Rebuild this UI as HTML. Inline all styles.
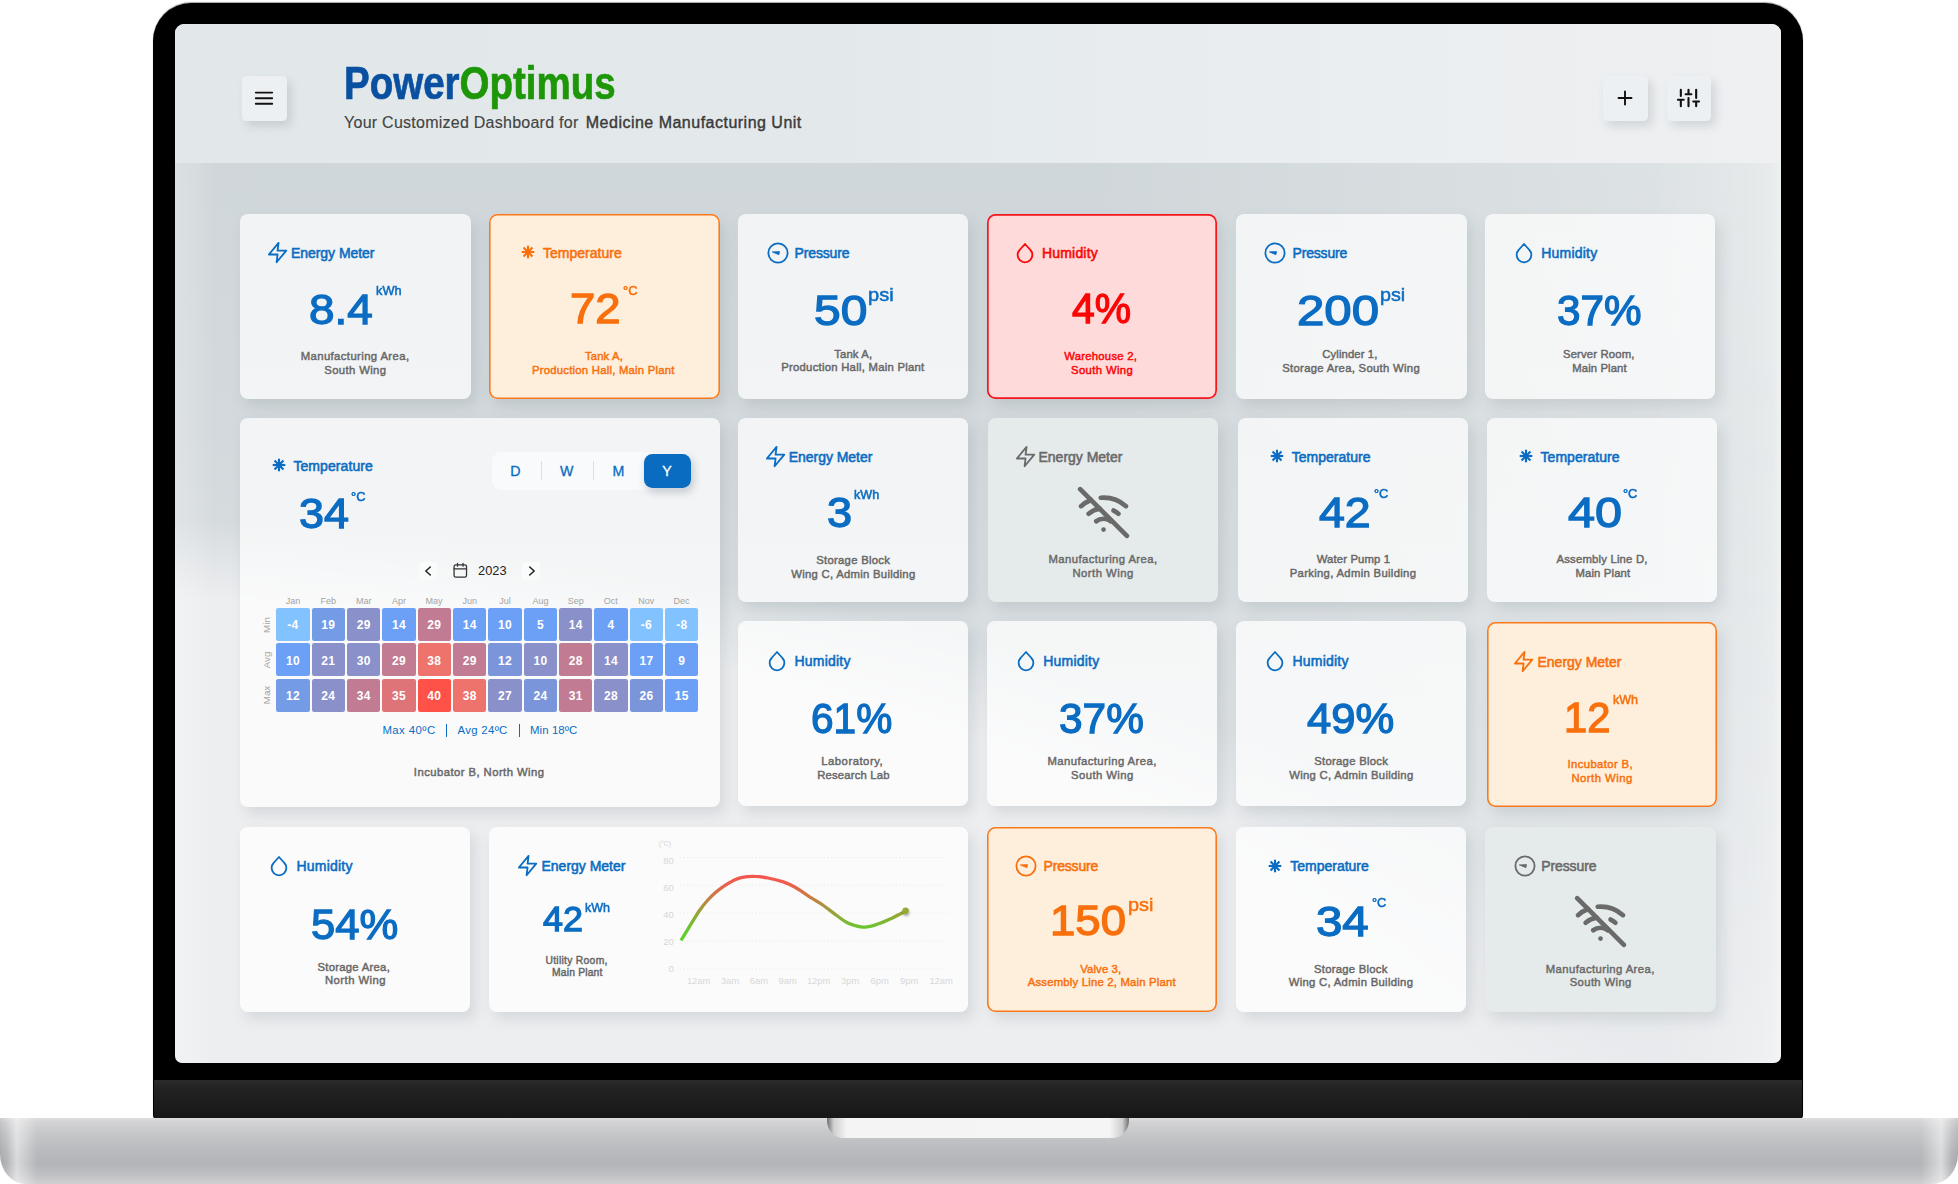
<!DOCTYPE html>
<html lang="en"><head><meta charset="utf-8"><title>PowerOptimus Dashboard</title>
<style>
*{box-sizing:border-box}
html,body{margin:0;padding:0}
body{width:1958px;height:1184px;position:relative;overflow:hidden;background:#fff;font-family:"Liberation Sans",Arial,sans-serif}
.t{position:absolute;white-space:nowrap;line-height:1;display:block}
.i{position:absolute;overflow:visible}
#lid{position:absolute;left:153px;top:2.5px;width:1650px;height:1116.5px;background:#000;border-radius:38px 38px 4px 4px;box-shadow:0 -1px 1px rgba(0,0,0,.35)}
#chin{position:absolute;left:154px;top:1079.5px;width:1648px;height:39px;background:linear-gradient(180deg,#2a2a2a 0,#222 25%,#161616 100%);border-radius:0 0 4px 4px}
#screen{position:absolute;left:175px;top:24px;width:1606px;height:1038.5px;border-radius:9px 9px 7px 7px;overflow:hidden;background:linear-gradient(90deg,rgba(255,255,255,.24) 0,rgba(255,255,255,.14) 1.2%,rgba(255,255,255,0) 2.4%,rgba(255,255,255,0) 92%,rgba(255,255,255,.2) 98%,rgba(255,255,255,.3) 99.4%,rgba(255,255,255,.5) 100%),radial-gradient(ellipse 1696px 684px at -175px 1176px,#edeef0 0,#edeef0 88.5%,rgba(237,238,240,0) 100%),radial-gradient(ellipse 700px 1300px at 100% 0%,rgba(255,255,255,.34) 0,rgba(255,255,255,0) 100%),linear-gradient(180deg,#d0d7da 0,#d0d7da 13.4%,#d3d9dc 40%,#d9dee1 60%,#dfe3e6 80%,#e7e9ec 100%)}
#hdr{position:absolute;left:0;top:0;width:100%;height:139px;background:linear-gradient(90deg,#e2e8ea 0,#e3e9eb 40%,#ebeef0 75%,#eef0f2 100%)}
#base{position:absolute;left:0;top:1118px;width:1958px;height:66px;border-radius:0 0 26px 26px/0 0 30px 30px;background:linear-gradient(90deg,rgba(0,0,0,.07) 0,rgba(255,255,255,.0) 0.35%,rgba(255,255,255,.5) 0.85%,rgba(255,255,255,.0) 1.9%,rgba(255,255,255,0) 98.1%,rgba(255,255,255,.5) 99.15%,rgba(255,255,255,0) 99.65%,rgba(0,0,0,.07) 100%),linear-gradient(180deg,#dededf 0,#d3d3d5 6%,#c8c9cb 20%,#babbbe 48%,#b3b4b7 68%,#bdbec1 84%,#d0d0d2 100%)}
#notch{position:absolute;left:827px;top:0;width:301.5px;height:20px;background:linear-gradient(90deg,#6e6e6e 0,#cfcfcf 2.2%,#f4f4f4 6.5%,#f5f5f5 93.5%,#cfcfcf 97.8%,#6e6e6e 100%);border-radius:0 0 16px 16px/0 0 18px 18px}
.btn{position:absolute;width:44.6px;height:44.6px;border-radius:4.5px;background:#edf0f2;box-shadow:4px 5px 10px rgba(90,105,115,.20)}
.card{position:absolute;border-radius:8px;background:rgba(255,255,255,.7);box-shadow:5px 7px 14px rgba(95,110,120,.17)}
.card.or{background:#feefdc;border-radius:8.5px;box-shadow:inset 0 0 0 1.6px #fb791d,5px 7px 14px rgba(95,110,120,.17)}
.card.rd{background:#fedada;border-radius:8.5px;box-shadow:inset 0 0 0 1.7px #f5161b,5px 7px 14px rgba(95,110,120,.17)}
.card.dis{background:#e5eaeb}
.card.w{background:rgba(255,255,255,.74)}
#seg{position:absolute;left:491.6px;top:451.6px;width:199px;height:38px;border-radius:9px;background:#f8fafb}
#segy{position:absolute;left:644px;top:453.5px;width:46.8px;height:34.3px;border-radius:8.5px;background:#0a6cc0;box-shadow:2px 4px 8px rgba(60,80,100,.28)}
.sep{position:absolute;top:461px;width:1px;height:19.2px;background:#dcdfe1}
.nav{position:absolute;width:18px;height:18px;border-radius:3.5px;background:#fafbfb}
.hc{position:absolute;width:33.3px;height:32.9px;border-radius:2.2px}
.rot{transform:translate(-50%,-50%) rotate(-90deg);transform-origin:50% 50%}
.vb{position:absolute;top:723.9px;width:1.3px;height:13.2px;background:#0a6cc2}
</style></head>
<body>
<div id="lid"></div><div id="chin"></div>
<div id="screen"><div id="hdr"></div></div>
<div id="base"><div id="notch"></div></div>
<div class="btn" style="left:242px;top:76px"></div>
<svg class="i" style="left:254.35px;top:88.4px" width="20" height="20" viewBox="0 0 20 20" stroke="#111" stroke-width="1.9" stroke-linecap="round"><path d="M1.8 4.6h16.4M1.8 10.2h16.4M1.8 15.8h16.4"/></svg>
<div class="btn" style="left:1603px;top:76px"></div>
<svg class="i" style="left:1615.45px;top:88.45px" width="20" height="20" viewBox="0 0 20 20" stroke="#111" stroke-width="1.9" stroke-linecap="round"><path d="M10 3.5v13M3.5 10h13"/></svg>
<div class="btn" style="left:1666.5px;top:76px"></div>
<svg class="i" style="left:1677.2px;top:87.45px" width="23" height="21.9" viewBox="0 0 24 24" preserveAspectRatio="none" fill="none" stroke="#111" stroke-width="2.2" stroke-linecap="round"><path d="M4 21v-7M4 10V3M12 21v-9M12 8V3M20 21v-5M20 12V3M1 14h6M9 8h6M17 16h6"/></svg>
<span class="t" id="logo" style="left:343.6px;top:59.62px;font-size:46.4px;font-weight:700;transform-origin:0 0;transform:scaleX(0.83);"><span style="color:#0a50a1;-webkit-text-stroke:0.7px #0a50a1">Power</span><span style="color:#1d9608;-webkit-text-stroke:0.7px #1d9608">Optimus</span></span>
<span class="t" id="t1" style="left:344.07px;top:115.06px;font-size:16px;color:#444;-webkit-text-stroke:0.15px #444;letter-spacing:0.253px;">Your Customized Dashboard for</span>
<span class="t" id="t2" style="left:585.80px;top:115.06px;font-size:16px;color:#3a3a3a;-webkit-text-stroke:0.4px #3a3a3a;letter-spacing:0.488px;">Medicine Manufacturing Unit</span>
<div class="card" style="left:240.1px;top:213.55px;width:230.5px;height:185.05px"></div>
<svg class="i" style="left:265.72px;top:240.79px" width="23.16" height="23.16" viewBox="0 0 24 24" fill="none" stroke="#0a6cc2" stroke-width="1.9" stroke-linejoin="round" stroke-linecap="round"><path d="M13 2 3 14h9l-1 8 10-12h-9l1-8z"/></svg>
<span class="t" id="t3" style="left:290.97px;top:246.35px;font-size:14px;color:#0a6cc2;-webkit-text-stroke:0.55px #0a6cc2;letter-spacing:-0.047px;">Energy Meter</span>
<span class="t" id="t4" style="left:309.12px;top:288.79px;font-size:42.3px;color:#0a6cc2;-webkit-text-stroke:1.3px #0a6cc2;transform-origin:0 0;transform:scaleX(1.0841);">8.4</span>
<span class="t" id="t5" style="left:375.96px;top:285.29px;font-size:12.3px;color:#0a6cc2;-webkit-text-stroke:0.5px #0a6cc2;transform-origin:0 0;transform:scaleX(1.0374);">kWh</span>
<span class="t" id="t6" style="left:300.73px;top:351.43px;font-size:11.3px;color:#686868;-webkit-text-stroke:0.45px #686868;letter-spacing:0.401px;">Manufacturing Area,</span>
<span class="t" id="t7" style="left:324.23px;top:365.33px;font-size:11.3px;color:#686868;-webkit-text-stroke:0.45px #686868;letter-spacing:0.382px;">South Wing</span>
<div class="card or" style="left:489.4px;top:213.55px;width:230.2px;height:185.05px"></div>
<svg class="i" style="left:518.20px;top:242.40px" width="20" height="20" viewBox="0 0 20 20" fill="none" stroke="#f8700d" stroke-width="2.15"><line x1="3.70" y1="10.00" x2="16.30" y2="10.00"/><line x1="5.55" y1="5.55" x2="14.45" y2="14.45"/><line x1="10.00" y1="3.70" x2="10.00" y2="16.30"/><line x1="14.45" y1="5.55" x2="5.55" y2="14.45"/></svg>
<span class="t" id="t8" style="left:542.88px;top:245.95px;font-size:14px;color:#f8700d;-webkit-text-stroke:0.55px #f8700d;letter-spacing:0.034px;">Temperature</span>
<span class="t" id="t9" style="left:569.95px;top:288.19px;font-size:42.3px;color:#f8700d;-webkit-text-stroke:1.3px #f8700d;transform-origin:0 0;transform:scaleX(1.0753);">72</span>
<span class="t" id="t10" style="left:622.56px;top:284.59px;font-size:12.3px;color:#f8700d;-webkit-text-stroke:0.5px #f8700d;transform-origin:0 0;transform:scaleX(1.0473);">°C</span>
<span class="t" id="t11" style="left:584.98px;top:351.13px;font-size:11.3px;color:#f8700d;-webkit-text-stroke:0.45px #f8700d;letter-spacing:0.127px;">Tank A,</span>
<span class="t" id="t12" style="left:531.98px;top:365.13px;font-size:11.3px;color:#f8700d;-webkit-text-stroke:0.45px #f8700d;letter-spacing:0.238px;">Production Hall, Main Plant</span>
<div class="card" style="left:737.8px;top:213.55px;width:230.5px;height:185.05px"></div>
<svg class="i" style="left:765.60px;top:240.80px" width="24" height="24" viewBox="0 0 24 24" fill="none" stroke="#0a6cc2" stroke-width="1.8"><circle cx="12" cy="12" r="9.6"/><path d="M6.3 10.9 13.5 10.6 12.9 13.7z" fill="#0a6cc2" stroke-width="0.8" stroke-linejoin="round"/></svg>
<span class="t" id="t13" style="left:794.48px;top:246.25px;font-size:14px;color:#0a6cc2;-webkit-text-stroke:0.55px #0a6cc2;letter-spacing:-0.126px;">Pressure</span>
<span class="t" id="t14" style="left:813.70px;top:290.39px;font-size:42.3px;color:#0a6cc2;-webkit-text-stroke:1.3px #0a6cc2;transform-origin:0 0;transform:scaleX(1.1326);">50</span>
<span class="t" id="t15" style="left:868.28px;top:285.72px;font-size:18.4px;color:#0a6cc2;-webkit-text-stroke:0.5px #0a6cc2;transform-origin:0 0;transform:scaleX(1.0902);">psi</span>
<span class="t" id="t16" style="left:834.23px;top:348.53px;font-size:11.3px;color:#686868;-webkit-text-stroke:0.45px #686868;letter-spacing:0.127px;">Tank A,</span>
<span class="t" id="t17" style="left:781.23px;top:362.43px;font-size:11.3px;color:#686868;-webkit-text-stroke:0.45px #686868;letter-spacing:0.257px;">Production Hall, Main Plant</span>
<div class="card rd" style="left:987px;top:213.55px;width:230.3px;height:185.05px"></div>
<svg class="i" style="left:1015.35px;top:241.90px" width="20" height="24" viewBox="0 0 20 24" fill="none" stroke="#fa0606" stroke-width="1.8" stroke-linejoin="round"><path d="M10 2 15.2 7.75A7.35 7.35 0 1 1 4.8 7.75z"/></svg>
<span class="t" id="t18" style="left:1041.98px;top:246.25px;font-size:14px;color:#fa0606;-webkit-text-stroke:0.55px #fa0606;letter-spacing:0.185px;">Humidity</span>
<span class="t" id="t19" style="left:1072.13px;top:288.09px;font-size:42.3px;color:#fa0606;-webkit-text-stroke:1.3px #fa0606;transform-origin:0 0;transform:scaleX(0.9657);">4%</span>
<span class="t" id="t20" style="left:1064.22px;top:350.93px;font-size:11.3px;color:#fa0606;-webkit-text-stroke:0.45px #fa0606;letter-spacing:0.253px;">Warehouse 2,</span>
<span class="t" id="t21" style="left:1070.97px;top:364.93px;font-size:11.3px;color:#fa0606;-webkit-text-stroke:0.45px #fa0606;letter-spacing:0.382px;">South Wing</span>
<div class="card" style="left:1235.75px;top:213.55px;width:230.95px;height:185.05px"></div>
<svg class="i" style="left:1263.30px;top:240.90px" width="24" height="24" viewBox="0 0 24 24" fill="none" stroke="#0a6cc2" stroke-width="1.8"><circle cx="12" cy="12" r="9.6"/><path d="M6.3 10.9 13.5 10.6 12.9 13.7z" fill="#0a6cc2" stroke-width="0.8" stroke-linejoin="round"/></svg>
<span class="t" id="t22" style="left:1292.53px;top:246.35px;font-size:14px;color:#0a6cc2;-webkit-text-stroke:0.55px #0a6cc2;letter-spacing:-0.183px;">Pressure</span>
<span class="t" id="t23" style="left:1296.68px;top:290.34px;font-size:42.3px;color:#0a6cc2;-webkit-text-stroke:1.3px #0a6cc2;transform-origin:0 0;transform:scaleX(1.1632);">200</span>
<span class="t" id="t24" style="left:1380.20px;top:285.67px;font-size:18.4px;color:#0a6cc2;-webkit-text-stroke:0.5px #0a6cc2;transform-origin:0 0;transform:scaleX(1.0719);">psi</span>
<span class="t" id="t25" style="left:1322.22px;top:348.63px;font-size:11.3px;color:#686868;-webkit-text-stroke:0.45px #686868;letter-spacing:0.119px;">Cylinder 1,</span>
<span class="t" id="t26" style="left:1282.22px;top:362.63px;font-size:11.3px;color:#686868;-webkit-text-stroke:0.45px #686868;letter-spacing:0.297px;">Storage Area, South Wing</span>
<div class="card" style="left:1484.75px;top:213.55px;width:230.55px;height:185.05px"></div>
<svg class="i" style="left:1513.80px;top:242.00px" width="20" height="24" viewBox="0 0 20 24" fill="none" stroke="#0a6cc2" stroke-width="1.8" stroke-linejoin="round"><path d="M10 2 15.2 7.75A7.35 7.35 0 1 1 4.8 7.75z"/></svg>
<span class="t" id="t27" style="left:1541.28px;top:246.35px;font-size:14px;color:#0a6cc2;-webkit-text-stroke:0.55px #0a6cc2;letter-spacing:0.214px;">Humidity</span>
<span class="t" id="t28" style="left:1556.65px;top:290.34px;font-size:42.3px;color:#0a6cc2;-webkit-text-stroke:1.3px #0a6cc2;transform-origin:0 0;transform:scaleX(0.9988);">37%</span>
<span class="t" id="t29" style="left:1562.97px;top:348.63px;font-size:11.3px;color:#686868;-webkit-text-stroke:0.45px #686868;letter-spacing:0.159px;">Server Room,</span>
<span class="t" id="t30" style="left:1572.22px;top:362.63px;font-size:11.3px;color:#686868;-webkit-text-stroke:0.45px #686868;letter-spacing:0.118px;">Main Plant</span>
<div class="card" style="left:737.75px;top:417.5px;width:230.5px;height:184.5px"></div>
<svg class="i" style="left:763.92px;top:444.94px" width="23.16" height="23.16" viewBox="0 0 24 24" fill="none" stroke="#0a6cc2" stroke-width="1.9" stroke-linejoin="round" stroke-linecap="round"><path d="M13 2 3 14h9l-1 8 10-12h-9l1-8z"/></svg>
<span class="t" id="t31" style="left:788.77px;top:450.15px;font-size:14px;color:#0a6cc2;-webkit-text-stroke:0.55px #0a6cc2;letter-spacing:-0.038px;">Energy Meter</span>
<span class="t" id="t32" style="left:827.38px;top:491.84px;font-size:42.3px;color:#0a6cc2;-webkit-text-stroke:1.3px #0a6cc2;transform-origin:0 0;transform:scaleX(1.0650);">3</span>
<span class="t" id="t33" style="left:854.26px;top:489.24px;font-size:12.3px;color:#0a6cc2;-webkit-text-stroke:0.5px #0a6cc2;transform-origin:0 0;transform:scaleX(1.0295);">kWh</span>
<span class="t" id="t34" style="left:816.23px;top:554.88px;font-size:11.3px;color:#686868;-webkit-text-stroke:0.45px #686868;letter-spacing:0.281px;">Storage Block</span>
<span class="t" id="t35" style="left:791.23px;top:568.63px;font-size:11.3px;color:#686868;-webkit-text-stroke:0.45px #686868;letter-spacing:0.282px;">Wing C, Admin Building</span>
<div class="card dis" style="left:987.75px;top:417.5px;width:230px;height:184.5px"></div>
<svg class="i" style="left:1013.67px;top:444.94px" width="23.16" height="23.16" viewBox="0 0 24 24" fill="none" stroke="#6a6a6a" stroke-width="1.9" stroke-linejoin="round" stroke-linecap="round"><path d="M13 2 3 14h9l-1 8 10-12h-9l1-8z"/></svg>
<span class="t" id="t36" style="left:1038.53px;top:450.15px;font-size:14px;color:#6a6a6a;-webkit-text-stroke:0.55px #6a6a6a;letter-spacing:-0.016px;">Energy Meter</span>
<svg class="i" style="left:1077.88px;top:486.98px" width="51.05" height="51.05" viewBox="0 0 24 24" fill="none" stroke="#6a6a6a" stroke-width="2.2" stroke-linecap="round" stroke-linejoin="round"><line x1="1" y1="1" x2="23" y2="23"/><path d="M16.72 11.06A10.94 10.94 0 0 1 19 12.55"/><path d="M5 12.55a10.94 10.94 0 0 1 5.17-2.39"/><path d="M10.71 5.05A16 16 0 0 1 22.58 9"/><path d="M1.42 9a15.91 15.91 0 0 1 4.7-2.88"/><path d="M8.53 16.11a6 6 0 0 1 6.95 0"/><line x1="12" y1="20" x2="12.01" y2="20"/></svg>
<span class="t" id="t37" style="left:1048.47px;top:554.13px;font-size:11.3px;color:#6a6a6a;-webkit-text-stroke:0.45px #6a6a6a;letter-spacing:0.415px;">Manufacturing Area,</span>
<span class="t" id="t38" style="left:1072.47px;top:568.13px;font-size:11.3px;color:#6a6a6a;-webkit-text-stroke:0.45px #6a6a6a;letter-spacing:0.481px;">North Wing</span>
<div class="card" style="left:1238px;top:417.5px;width:230.25px;height:184.5px"></div>
<svg class="i" style="left:1266.90px;top:446.45px" width="20" height="20" viewBox="0 0 20 20" fill="none" stroke="#0a6cc2" stroke-width="2.15"><line x1="3.70" y1="10.00" x2="16.30" y2="10.00"/><line x1="5.55" y1="5.55" x2="14.45" y2="14.45"/><line x1="10.00" y1="3.70" x2="10.00" y2="16.30"/><line x1="14.45" y1="5.55" x2="5.55" y2="14.45"/></svg>
<span class="t" id="t39" style="left:1291.78px;top:449.90px;font-size:14px;color:#0a6cc2;-webkit-text-stroke:0.55px #0a6cc2;letter-spacing:0.014px;">Temperature</span>
<span class="t" id="t40" style="left:1319.46px;top:491.84px;font-size:42.3px;color:#0a6cc2;-webkit-text-stroke:1.3px #0a6cc2;transform-origin:0 0;transform:scaleX(1.0999);">42</span>
<span class="t" id="t41" style="left:1373.51px;top:488.49px;font-size:12.3px;color:#0a6cc2;-webkit-text-stroke:0.5px #0a6cc2;transform-origin:0 0;transform:scaleX(1.0404);">°C</span>
<span class="t" id="t42" style="left:1316.72px;top:554.13px;font-size:11.3px;color:#686868;-webkit-text-stroke:0.45px #686868;letter-spacing:0.141px;">Water Pump 1</span>
<span class="t" id="t43" style="left:1289.72px;top:568.13px;font-size:11.3px;color:#686868;-webkit-text-stroke:0.45px #686868;letter-spacing:0.314px;">Parking, Admin Building</span>
<div class="card" style="left:1486.5px;top:417.5px;width:230.5px;height:184.5px"></div>
<svg class="i" style="left:1515.60px;top:446.45px" width="20" height="20" viewBox="0 0 20 20" fill="none" stroke="#0a6cc2" stroke-width="2.15"><line x1="3.70" y1="10.00" x2="16.30" y2="10.00"/><line x1="5.55" y1="5.55" x2="14.45" y2="14.45"/><line x1="10.00" y1="3.70" x2="10.00" y2="16.30"/><line x1="14.45" y1="5.55" x2="5.55" y2="14.45"/></svg>
<span class="t" id="t44" style="left:1540.53px;top:449.90px;font-size:14px;color:#0a6cc2;-webkit-text-stroke:0.55px #0a6cc2;letter-spacing:0.039px;">Temperature</span>
<span class="t" id="t45" style="left:1567.75px;top:491.84px;font-size:42.3px;color:#0a6cc2;-webkit-text-stroke:1.3px #0a6cc2;transform-origin:0 0;transform:scaleX(1.1479);">40</span>
<span class="t" id="t46" style="left:1623.01px;top:488.49px;font-size:12.3px;color:#0a6cc2;-webkit-text-stroke:0.5px #0a6cc2;transform-origin:0 0;transform:scaleX(1.0404);">°C</span>
<span class="t" id="t47" style="left:1556.47px;top:554.13px;font-size:11.3px;color:#686868;-webkit-text-stroke:0.45px #686868;letter-spacing:0.203px;">Assembly Line D,</span>
<span class="t" id="t48" style="left:1575.47px;top:568.13px;font-size:11.3px;color:#686868;-webkit-text-stroke:0.45px #686868;letter-spacing:0.146px;">Main Plant</span>
<div class="card w" style="left:737.75px;top:621px;width:230.5px;height:184.75px"></div>
<svg class="i" style="left:767.05px;top:649.75px" width="20" height="24" viewBox="0 0 20 24" fill="none" stroke="#0a6cc2" stroke-width="1.8" stroke-linejoin="round"><path d="M10 2 15.2 7.75A7.35 7.35 0 1 1 4.8 7.75z"/></svg>
<span class="t" id="t49" style="left:794.52px;top:653.90px;font-size:14px;color:#0a6cc2;-webkit-text-stroke:0.55px #0a6cc2;letter-spacing:0.214px;">Humidity</span>
<span class="t" id="t50" style="left:810.95px;top:697.59px;font-size:42.3px;color:#0a6cc2;-webkit-text-stroke:1.3px #0a6cc2;transform-origin:0 0;transform:scaleX(0.9598);">61%</span>
<span class="t" id="t51" style="left:821.23px;top:755.88px;font-size:11.3px;color:#686868;-webkit-text-stroke:0.45px #686868;letter-spacing:0.513px;">Laboratory,</span>
<span class="t" id="t52" style="left:817.23px;top:769.63px;font-size:11.3px;color:#686868;-webkit-text-stroke:0.45px #686868;letter-spacing:0.182px;">Research Lab</span>
<div class="card w" style="left:987px;top:621px;width:230px;height:184.75px"></div>
<svg class="i" style="left:1015.80px;top:649.75px" width="20" height="24" viewBox="0 0 20 24" fill="none" stroke="#0a6cc2" stroke-width="1.8" stroke-linejoin="round"><path d="M10 2 15.2 7.75A7.35 7.35 0 1 1 4.8 7.75z"/></svg>
<span class="t" id="t53" style="left:1043.28px;top:653.90px;font-size:14px;color:#0a6cc2;-webkit-text-stroke:0.55px #0a6cc2;letter-spacing:0.214px;">Humidity</span>
<span class="t" id="t54" style="left:1058.65px;top:697.59px;font-size:42.3px;color:#0a6cc2;-webkit-text-stroke:1.3px #0a6cc2;transform-origin:0 0;transform:scaleX(1.0018);">37%</span>
<span class="t" id="t55" style="left:1047.47px;top:755.88px;font-size:11.3px;color:#686868;-webkit-text-stroke:0.45px #686868;letter-spacing:0.428px;">Manufacturing Area,</span>
<span class="t" id="t56" style="left:1070.97px;top:769.63px;font-size:11.3px;color:#686868;-webkit-text-stroke:0.45px #686868;letter-spacing:0.437px;">South Wing</span>
<div class="card w" style="left:1235.75px;top:621px;width:230.5px;height:184.75px"></div>
<svg class="i" style="left:1265.05px;top:649.75px" width="20" height="24" viewBox="0 0 20 24" fill="none" stroke="#0a6cc2" stroke-width="1.8" stroke-linejoin="round"><path d="M10 2 15.2 7.75A7.35 7.35 0 1 1 4.8 7.75z"/></svg>
<span class="t" id="t57" style="left:1292.53px;top:653.90px;font-size:14px;color:#0a6cc2;-webkit-text-stroke:0.55px #0a6cc2;letter-spacing:0.214px;">Humidity</span>
<span class="t" id="t58" style="left:1307.17px;top:697.59px;font-size:42.3px;color:#0a6cc2;-webkit-text-stroke:1.3px #0a6cc2;transform-origin:0 0;transform:scaleX(1.0311);">49%</span>
<span class="t" id="t59" style="left:1314.22px;top:755.88px;font-size:11.3px;color:#686868;-webkit-text-stroke:0.45px #686868;letter-spacing:0.281px;">Storage Block</span>
<span class="t" id="t60" style="left:1289.22px;top:769.63px;font-size:11.3px;color:#686868;-webkit-text-stroke:0.45px #686868;letter-spacing:0.282px;">Wing C, Admin Building</span>
<div class="card or" style="left:1487px;top:622px;width:230px;height:184.5px"></div>
<svg class="i" style="left:1512.42px;top:650.19px" width="23.16" height="23.16" viewBox="0 0 24 24" fill="none" stroke="#f8700d" stroke-width="1.9" stroke-linejoin="round" stroke-linecap="round"><path d="M13 2 3 14h9l-1 8 10-12h-9l1-8z"/></svg>
<span class="t" id="t61" style="left:1537.53px;top:654.65px;font-size:14px;color:#f8700d;-webkit-text-stroke:0.55px #f8700d;letter-spacing:-0.016px;">Energy Meter</span>
<span class="t" id="t62" style="left:1563.93px;top:697.09px;font-size:42.3px;color:#f8700d;-webkit-text-stroke:1.3px #f8700d;transform-origin:0 0;transform:scaleX(0.9869);">12</span>
<span class="t" id="t63" style="left:1612.75px;top:693.74px;font-size:12.3px;color:#f8700d;-webkit-text-stroke:0.5px #f8700d;transform-origin:0 0;transform:scaleX(1.0196);">kWh</span>
<span class="t" id="t64" style="left:1567.47px;top:759.38px;font-size:11.3px;color:#f8700d;-webkit-text-stroke:0.45px #f8700d;letter-spacing:0.389px;">Incubator B,</span>
<span class="t" id="t65" style="left:1571.47px;top:773.13px;font-size:11.3px;color:#f8700d;-webkit-text-stroke:0.45px #f8700d;letter-spacing:0.481px;">North Wing</span>
<div class="card w" style="left:239.75px;top:826.75px;width:230.5px;height:185px"></div>
<svg class="i" style="left:269.05px;top:854.75px" width="20" height="24" viewBox="0 0 20 24" fill="none" stroke="#0a6cc2" stroke-width="1.8" stroke-linejoin="round"><path d="M10 2 15.2 7.75A7.35 7.35 0 1 1 4.8 7.75z"/></svg>
<span class="t" id="t66" style="left:296.52px;top:859.40px;font-size:14px;color:#0a6cc2;-webkit-text-stroke:0.55px #0a6cc2;letter-spacing:0.214px;">Humidity</span>
<span class="t" id="t67" style="left:310.64px;top:903.59px;font-size:42.3px;color:#0a6cc2;-webkit-text-stroke:1.3px #0a6cc2;transform-origin:0 0;transform:scaleX(1.0315);">54%</span>
<span class="t" id="t68" style="left:317.48px;top:961.63px;font-size:11.3px;color:#686868;-webkit-text-stroke:0.45px #686868;letter-spacing:0.269px;">Storage Area,</span>
<span class="t" id="t69" style="left:324.98px;top:975.38px;font-size:11.3px;color:#686868;-webkit-text-stroke:0.45px #686868;letter-spacing:0.454px;">North Wing</span>
<div class="card or" style="left:986.75px;top:826.75px;width:230.5px;height:185px"></div>
<svg class="i" style="left:1014.30px;top:853.90px" width="24" height="24" viewBox="0 0 24 24" fill="none" stroke="#f8700d" stroke-width="1.8"><circle cx="12" cy="12" r="9.6"/><path d="M6.3 10.9 13.5 10.6 12.9 13.7z" fill="#f8700d" stroke-width="0.8" stroke-linejoin="round"/></svg>
<span class="t" id="t70" style="left:1043.53px;top:859.40px;font-size:14px;color:#f8700d;-webkit-text-stroke:0.55px #f8700d;letter-spacing:-0.183px;">Pressure</span>
<span class="t" id="t71" style="left:1049.97px;top:899.84px;font-size:42.3px;color:#f8700d;-webkit-text-stroke:1.3px #f8700d;transform-origin:0 0;transform:scaleX(1.0765);">150</span>
<span class="t" id="t72" style="left:1127.69px;top:896.42px;font-size:18.4px;color:#f8700d;-webkit-text-stroke:0.5px #f8700d;transform-origin:0 0;transform:scaleX(1.0833);">psi</span>
<span class="t" id="t73" style="left:1080.22px;top:963.63px;font-size:11.3px;color:#f8700d;-webkit-text-stroke:0.45px #f8700d;letter-spacing:0.137px;">Valve 3,</span>
<span class="t" id="t74" style="left:1027.72px;top:977.38px;font-size:11.3px;color:#f8700d;-webkit-text-stroke:0.45px #f8700d;letter-spacing:0.208px;">Assembly Line 2, Main Plant</span>
<div class="card w" style="left:1236px;top:826.75px;width:230px;height:185px"></div>
<svg class="i" style="left:1264.60px;top:855.95px" width="20" height="20" viewBox="0 0 20 20" fill="none" stroke="#0a6cc2" stroke-width="2.15"><line x1="3.70" y1="10.00" x2="16.30" y2="10.00"/><line x1="5.55" y1="5.55" x2="14.45" y2="14.45"/><line x1="10.00" y1="3.70" x2="10.00" y2="16.30"/><line x1="14.45" y1="5.55" x2="5.55" y2="14.45"/></svg>
<span class="t" id="t75" style="left:1290.28px;top:859.40px;font-size:14px;color:#0a6cc2;-webkit-text-stroke:0.55px #0a6cc2;letter-spacing:-0.011px;">Temperature</span>
<span class="t" id="t76" style="left:1316.36px;top:900.59px;font-size:42.3px;color:#0a6cc2;-webkit-text-stroke:1.3px #0a6cc2;transform-origin:0 0;transform:scaleX(1.1212);">34</span>
<span class="t" id="t77" style="left:1371.51px;top:897.49px;font-size:12.3px;color:#0a6cc2;-webkit-text-stroke:0.5px #0a6cc2;transform-origin:0 0;transform:scaleX(1.0404);">°C</span>
<span class="t" id="t78" style="left:1313.97px;top:963.63px;font-size:11.3px;color:#686868;-webkit-text-stroke:0.45px #686868;letter-spacing:0.260px;">Storage Block</span>
<span class="t" id="t79" style="left:1288.72px;top:977.38px;font-size:11.3px;color:#686868;-webkit-text-stroke:0.45px #686868;letter-spacing:0.294px;">Wing C, Admin Building</span>
<div class="card dis" style="left:1485px;top:826.75px;width:230.5px;height:185px"></div>
<svg class="i" style="left:1512.60px;top:853.90px" width="24" height="24" viewBox="0 0 24 24" fill="none" stroke="#6a6a6a" stroke-width="1.8"><circle cx="12" cy="12" r="9.6"/><path d="M6.3 10.9 13.5 10.6 12.9 13.7z" fill="#6a6a6a" stroke-width="0.8" stroke-linejoin="round"/></svg>
<span class="t" id="t80" style="left:1541.28px;top:859.40px;font-size:14px;color:#6a6a6a;-webkit-text-stroke:0.55px #6a6a6a;letter-spacing:-0.112px;">Pressure</span>
<svg class="i" style="left:1575.08px;top:896.08px" width="51.05" height="51.05" viewBox="0 0 24 24" fill="none" stroke="#6a6a6a" stroke-width="2.2" stroke-linecap="round" stroke-linejoin="round"><line x1="1" y1="1" x2="23" y2="23"/><path d="M16.72 11.06A10.94 10.94 0 0 1 19 12.55"/><path d="M5 12.55a10.94 10.94 0 0 1 5.17-2.39"/><path d="M10.71 5.05A16 16 0 0 1 22.58 9"/><path d="M1.42 9a15.91 15.91 0 0 1 4.7-2.88"/><path d="M8.53 16.11a6 6 0 0 1 6.95 0"/><line x1="12" y1="20" x2="12.01" y2="20"/></svg>
<span class="t" id="t81" style="left:1545.72px;top:963.63px;font-size:11.3px;color:#6a6a6a;-webkit-text-stroke:0.45px #6a6a6a;letter-spacing:0.415px;">Manufacturing Area,</span>
<span class="t" id="t82" style="left:1569.72px;top:977.38px;font-size:11.3px;color:#6a6a6a;-webkit-text-stroke:0.45px #6a6a6a;letter-spacing:0.354px;">South Wing</span>
<div class="card" style="left:240px;top:417.5px;width:479.5px;height:389.3px"></div>
<svg class="i" style="left:269.00px;top:455.30px" width="20" height="20" viewBox="0 0 20 20" fill="none" stroke="#0a6cc2" stroke-width="2.15"><line x1="3.70" y1="10.00" x2="16.30" y2="10.00"/><line x1="5.55" y1="5.55" x2="14.45" y2="14.45"/><line x1="10.00" y1="3.70" x2="10.00" y2="16.30"/><line x1="14.45" y1="5.55" x2="5.55" y2="14.45"/></svg>
<span class="t" id="t83" style="left:293.38px;top:459.25px;font-size:14px;color:#0a6cc2;-webkit-text-stroke:0.55px #0a6cc2;letter-spacing:0.094px;">Temperature</span>
<span class="t" id="t84" style="left:298.63px;top:492.69px;font-size:42.3px;color:#0a6cc2;-webkit-text-stroke:1.3px #0a6cc2;transform-origin:0 0;transform:scaleX(1.0614);">34</span>
<span class="t" id="t85" style="left:350.96px;top:491.19px;font-size:12.3px;color:#0a6cc2;-webkit-text-stroke:0.5px #0a6cc2;transform-origin:0 0;transform:scaleX(1.0473);">°C</span>
<div id="seg"></div><div id="segy"></div><div class="sep" style="left:541.2px"></div><div class="sep" style="left:593.3px"></div>
<span class="t" id="t86" style="left:510.30px;top:464.18px;font-size:14.2px;color:#0a6cc2;-webkit-text-stroke:0.3px #0a6cc2;">D</span>
<span class="t" id="t87" style="left:560.00px;top:464.18px;font-size:14.2px;color:#0a6cc2;-webkit-text-stroke:0.3px #0a6cc2;">W</span>
<span class="t" id="t88" style="left:612.50px;top:464.18px;font-size:14.2px;color:#0a6cc2;-webkit-text-stroke:0.3px #0a6cc2;">M</span>
<span class="t" id="t89" style="left:662.30px;top:464.18px;font-size:14.2px;color:#fff;-webkit-text-stroke:0.3px #fff;">Y</span>
<div class="nav" style="left:419px;top:561.5px"></div><div class="nav" style="left:522.3px;top:561.5px"></div>
<svg class="i" style="left:423.4px;top:564.5px" width="10" height="12" viewBox="0 0 10 12" fill="none" stroke="#222" stroke-width="1.55" stroke-linecap="round" stroke-linejoin="round"><path d="M7.3 2 2.8 6l4.5 4"/></svg>
<svg class="i" style="left:526.5px;top:564.5px" width="10" height="12" viewBox="0 0 10 12" fill="none" stroke="#222" stroke-width="1.55" stroke-linecap="round" stroke-linejoin="round"><path d="M2.7 2 7.2 6l-4.5 4"/></svg>
<svg class="i" style="left:451.5px;top:562px" width="16.6" height="16.6" viewBox="0 0 24 24" fill="none" stroke="#333" stroke-width="1.85" stroke-linecap="round" stroke-linejoin="round"><rect x="3" y="4" width="18" height="18" rx="2.5"/><path d="M16 2v4M8 2v4M3 10h18"/></svg>
<span class="t" id="t90" style="left:478.00px;top:565.16px;font-size:12.8px;color:#222;letter-spacing:0.050px;">2023</span>
<span class="t" id="t91" style="left:285.70px;top:596.98px;font-size:9px;color:#a4a4a4;">Jan</span>
<span class="t" id="t92" style="left:320.55px;top:596.98px;font-size:9px;color:#a4a4a4;">Feb</span>
<span class="t" id="t93" style="left:355.90px;top:596.98px;font-size:9px;color:#a4a4a4;">Mar</span>
<span class="t" id="t94" style="left:392.00px;top:596.98px;font-size:9px;color:#a4a4a4;">Apr</span>
<span class="t" id="t95" style="left:425.60px;top:596.98px;font-size:9px;color:#a4a4a4;">May</span>
<span class="t" id="t96" style="left:462.45px;top:596.98px;font-size:9px;color:#a4a4a4;">Jun</span>
<span class="t" id="t97" style="left:499.30px;top:596.98px;font-size:9px;color:#a4a4a4;">Jul</span>
<span class="t" id="t98" style="left:532.40px;top:596.98px;font-size:9px;color:#a4a4a4;">Aug</span>
<span class="t" id="t99" style="left:567.75px;top:596.98px;font-size:9px;color:#a4a4a4;">Sep</span>
<span class="t" id="t100" style="left:603.85px;top:596.98px;font-size:9px;color:#a4a4a4;">Oct</span>
<span class="t" id="t101" style="left:638.20px;top:596.98px;font-size:9px;color:#a4a4a4;">Nov</span>
<span class="t" id="t102" style="left:673.55px;top:596.98px;font-size:9px;color:#a4a4a4;">Dec</span>
<span class="t rot" style="left:267.1px;top:624.60px;font-size:9.8px;color:#a4a4a4">Min</span>
<div class="hc" style="left:276.30px;top:608.10px;background:#82c2ff"></div>
<span class="t" id="t103" style="left:287.30px;top:619.34px;font-size:12px;color:#fff;font-weight:700;letter-spacing:0.300px;">-4</span>
<div class="hc" style="left:311.65px;top:608.10px;background:#739be6"></div>
<span class="t" id="t104" style="left:321.31px;top:619.34px;font-size:12px;color:#fff;font-weight:700;letter-spacing:0.300px;">19</span>
<div class="hc" style="left:347.00px;top:608.10px;background:#8a90ca"></div>
<span class="t" id="t105" style="left:356.66px;top:619.34px;font-size:12px;color:#fff;font-weight:700;letter-spacing:0.300px;">29</span>
<div class="hc" style="left:382.35px;top:608.10px;background:#6ca0f6"></div>
<span class="t" id="t106" style="left:392.01px;top:619.34px;font-size:12px;color:#fff;font-weight:700;letter-spacing:0.300px;">14</span>
<div class="hc" style="left:417.70px;top:608.10px;background:#c17b92"></div>
<span class="t" id="t107" style="left:427.36px;top:619.34px;font-size:12px;color:#fff;font-weight:700;letter-spacing:0.300px;">29</span>
<div class="hc" style="left:453.05px;top:608.10px;background:#6ca0f6"></div>
<span class="t" id="t108" style="left:462.71px;top:619.34px;font-size:12px;color:#fff;font-weight:700;letter-spacing:0.300px;">14</span>
<div class="hc" style="left:488.40px;top:608.10px;background:#6ca0f6"></div>
<span class="t" id="t109" style="left:498.06px;top:619.34px;font-size:12px;color:#fff;font-weight:700;letter-spacing:0.300px;">10</span>
<div class="hc" style="left:523.75px;top:608.10px;background:#6ca0f6"></div>
<span class="t" id="t110" style="left:536.90px;top:619.34px;font-size:12px;color:#fff;font-weight:700;letter-spacing:0.300px;">5</span>
<div class="hc" style="left:559.10px;top:608.10px;background:#8a90ca"></div>
<span class="t" id="t111" style="left:568.76px;top:619.34px;font-size:12px;color:#fff;font-weight:700;letter-spacing:0.300px;">14</span>
<div class="hc" style="left:594.45px;top:608.10px;background:#6ca0f6"></div>
<span class="t" id="t112" style="left:607.60px;top:619.34px;font-size:12px;color:#fff;font-weight:700;letter-spacing:0.300px;">4</span>
<div class="hc" style="left:629.80px;top:608.10px;background:#82c2ff"></div>
<span class="t" id="t113" style="left:640.80px;top:619.34px;font-size:12px;color:#fff;font-weight:700;letter-spacing:0.300px;">-6</span>
<div class="hc" style="left:665.15px;top:608.10px;background:#82c2ff"></div>
<span class="t" id="t114" style="left:676.15px;top:619.34px;font-size:12px;color:#fff;font-weight:700;letter-spacing:0.300px;">-8</span>
<span class="t rot" style="left:267.1px;top:659.95px;font-size:9.8px;color:#a4a4a4">Avg</span>
<div class="hc" style="left:276.30px;top:643.45px;background:#6ca0f6"></div>
<span class="t" id="t115" style="left:285.96px;top:654.69px;font-size:12px;color:#fff;font-weight:700;letter-spacing:0.300px;">10</span>
<div class="hc" style="left:311.65px;top:643.45px;background:#8a90ca"></div>
<span class="t" id="t116" style="left:321.31px;top:654.69px;font-size:12px;color:#fff;font-weight:700;letter-spacing:0.300px;">21</span>
<div class="hc" style="left:347.00px;top:643.45px;background:#8a90ca"></div>
<span class="t" id="t117" style="left:356.66px;top:654.69px;font-size:12px;color:#fff;font-weight:700;letter-spacing:0.300px;">30</span>
<div class="hc" style="left:382.35px;top:643.45px;background:#c17b92"></div>
<span class="t" id="t118" style="left:392.01px;top:654.69px;font-size:12px;color:#fff;font-weight:700;letter-spacing:0.300px;">29</span>
<div class="hc" style="left:417.70px;top:643.45px;background:#ee736c"></div>
<span class="t" id="t119" style="left:427.36px;top:654.69px;font-size:12px;color:#fff;font-weight:700;letter-spacing:0.300px;">38</span>
<div class="hc" style="left:453.05px;top:643.45px;background:#c17b92"></div>
<span class="t" id="t120" style="left:462.71px;top:654.69px;font-size:12px;color:#fff;font-weight:700;letter-spacing:0.300px;">29</span>
<div class="hc" style="left:488.40px;top:643.45px;background:#7b95da"></div>
<span class="t" id="t121" style="left:498.06px;top:654.69px;font-size:12px;color:#fff;font-weight:700;letter-spacing:0.300px;">12</span>
<div class="hc" style="left:523.75px;top:643.45px;background:#8a90ca"></div>
<span class="t" id="t122" style="left:533.41px;top:654.69px;font-size:12px;color:#fff;font-weight:700;letter-spacing:0.300px;">10</span>
<div class="hc" style="left:559.10px;top:643.45px;background:#c17b92"></div>
<span class="t" id="t123" style="left:568.76px;top:654.69px;font-size:12px;color:#fff;font-weight:700;letter-spacing:0.300px;">28</span>
<div class="hc" style="left:594.45px;top:643.45px;background:#8a90ca"></div>
<span class="t" id="t124" style="left:604.11px;top:654.69px;font-size:12px;color:#fff;font-weight:700;letter-spacing:0.300px;">14</span>
<div class="hc" style="left:629.80px;top:643.45px;background:#6ca0f6"></div>
<span class="t" id="t125" style="left:639.46px;top:654.69px;font-size:12px;color:#fff;font-weight:700;letter-spacing:0.300px;">17</span>
<div class="hc" style="left:665.15px;top:643.45px;background:#6ca0f6"></div>
<span class="t" id="t126" style="left:678.30px;top:654.69px;font-size:12px;color:#fff;font-weight:700;letter-spacing:0.300px;">9</span>
<span class="t rot" style="left:267.1px;top:695.30px;font-size:9.8px;color:#a4a4a4">Max</span>
<div class="hc" style="left:276.30px;top:678.80px;background:#739be6"></div>
<span class="t" id="t127" style="left:285.96px;top:690.04px;font-size:12px;color:#fff;font-weight:700;letter-spacing:0.300px;">12</span>
<div class="hc" style="left:311.65px;top:678.80px;background:#8a90ca"></div>
<span class="t" id="t128" style="left:321.31px;top:690.04px;font-size:12px;color:#fff;font-weight:700;letter-spacing:0.300px;">24</span>
<div class="hc" style="left:347.00px;top:678.80px;background:#c17b92"></div>
<span class="t" id="t129" style="left:356.66px;top:690.04px;font-size:12px;color:#fff;font-weight:700;letter-spacing:0.300px;">34</span>
<div class="hc" style="left:382.35px;top:678.80px;background:#de7478"></div>
<span class="t" id="t130" style="left:392.01px;top:690.04px;font-size:12px;color:#fff;font-weight:700;letter-spacing:0.300px;">35</span>
<div class="hc" style="left:417.70px;top:678.80px;background:#fe5147"></div>
<span class="t" id="t131" style="left:427.36px;top:690.04px;font-size:12px;color:#fff;font-weight:700;letter-spacing:0.300px;">40</span>
<div class="hc" style="left:453.05px;top:678.80px;background:#ee736c"></div>
<span class="t" id="t132" style="left:462.71px;top:690.04px;font-size:12px;color:#fff;font-weight:700;letter-spacing:0.300px;">38</span>
<div class="hc" style="left:488.40px;top:678.80px;background:#8a90ca"></div>
<span class="t" id="t133" style="left:498.06px;top:690.04px;font-size:12px;color:#fff;font-weight:700;letter-spacing:0.300px;">27</span>
<div class="hc" style="left:523.75px;top:678.80px;background:#7b95da"></div>
<span class="t" id="t134" style="left:533.41px;top:690.04px;font-size:12px;color:#fff;font-weight:700;letter-spacing:0.300px;">24</span>
<div class="hc" style="left:559.10px;top:678.80px;background:#c17b92"></div>
<span class="t" id="t135" style="left:568.76px;top:690.04px;font-size:12px;color:#fff;font-weight:700;letter-spacing:0.300px;">31</span>
<div class="hc" style="left:594.45px;top:678.80px;background:#8a90ca"></div>
<span class="t" id="t136" style="left:604.11px;top:690.04px;font-size:12px;color:#fff;font-weight:700;letter-spacing:0.300px;">28</span>
<div class="hc" style="left:629.80px;top:678.80px;background:#7b95da"></div>
<span class="t" id="t137" style="left:639.46px;top:690.04px;font-size:12px;color:#fff;font-weight:700;letter-spacing:0.300px;">26</span>
<div class="hc" style="left:665.15px;top:678.80px;background:#6ca0f6"></div>
<span class="t" id="t138" style="left:674.81px;top:690.04px;font-size:12px;color:#fff;font-weight:700;letter-spacing:0.300px;">15</span>
<span class="t" id="t139" style="left:382.40px;top:725.05px;font-size:11.4px;color:#0a6cc2;letter-spacing:0.427px;">Max 40ºC</span>
<span class="t" id="t140" style="left:457.60px;top:725.05px;font-size:11.4px;color:#0a6cc2;letter-spacing:0.298px;">Avg 24ºC</span>
<span class="t" id="t141" style="left:530.00px;top:725.05px;font-size:11.4px;color:#0a6cc2;letter-spacing:0.093px;">Min 18ºC</span>
<div class="vb" style="left:446.2px"></div><div class="vb" style="left:518.6px"></div>
<span class="t" id="t142" style="left:413.83px;top:766.73px;font-size:11.3px;color:#686868;-webkit-text-stroke:0.45px #686868;letter-spacing:0.440px;">Incubator B, North Wing</span>
<div class="card w" style="left:489px;top:826.75px;width:479.25px;height:185px"></div>
<svg class="i" style="left:516.42px;top:854.44px" width="23.16" height="23.16" viewBox="0 0 24 24" fill="none" stroke="#0a6cc2" stroke-width="1.9" stroke-linejoin="round" stroke-linecap="round"><path d="M13 2 3 14h9l-1 8 10-12h-9l1-8z"/></svg>
<span class="t" id="t143" style="left:541.52px;top:859.40px;font-size:14px;color:#0a6cc2;-webkit-text-stroke:0.55px #0a6cc2;letter-spacing:-0.016px;">Energy Meter</span>
<span class="t" id="t144" style="left:542.92px;top:902.11px;font-size:34.6px;color:#0a6cc2;-webkit-text-stroke:1.3px #0a6cc2;transform-origin:0 0;transform:scaleX(1.0381);">42</span>
<span class="t" id="t145" style="left:585.00px;top:901.74px;font-size:12.3px;color:#0a6cc2;-webkit-text-stroke:0.5px #0a6cc2;transform-origin:0 0;transform:scaleX(1.0196);">kWh</span>
<span class="t" id="t146" style="left:545.48px;top:956.48px;font-size:10.3px;color:#686868;-webkit-text-stroke:0.45px #686868;letter-spacing:0.296px;">Utility Room,</span>
<span class="t" id="t147" style="left:551.98px;top:968.23px;font-size:10.3px;color:#686868;-webkit-text-stroke:0.45px #686868;letter-spacing:0.196px;">Main Plant</span>
<svg class="i" style="left:0;top:0" width="1958" height="1184" viewBox="0 0 1958 1184" fill="none"><defs><linearGradient id="cg" gradientUnits="userSpaceOnUse" x1="0" y1="876" x2="0" y2="941"><stop offset="0" stop-color="#f2564e"/><stop offset="0.12" stop-color="#ee5e4c"/><stop offset="0.8" stop-color="#6cc62e"/><stop offset="1" stop-color="#58d62a"/></linearGradient><filter id="ds" x="-100%" y="-100%" width="300%" height="300%"><feDropShadow dx="0.5" dy="2" stdDeviation="1.2" flood-color="#000" flood-opacity="0.35"/></filter></defs><line x1="680" y1="857.5" x2="949.5" y2="857.5" stroke="#e4e4e4" stroke-width="0.8" stroke-dasharray="1 2.6"/><line x1="680" y1="885.3" x2="949.5" y2="885.3" stroke="#e4e4e4" stroke-width="0.8" stroke-dasharray="1 2.6"/><line x1="680" y1="913.1" x2="949.5" y2="913.1" stroke="#e4e4e4" stroke-width="0.8" stroke-dasharray="1 2.6"/><line x1="680" y1="941.2" x2="949.5" y2="941.2" stroke="#e4e4e4" stroke-width="0.8" stroke-dasharray="1 2.6"/><line x1="680" y1="969.2" x2="949.5" y2="969.2" stroke="#e4e4e4" stroke-width="0.8" stroke-dasharray="1 2.6"/><path d="M681.0 940.4C682.6 937.8 687.6 929.6 690.6 924.7C693.6 919.9 696.2 915.3 699.0 911.2C701.8 907.2 704.6 903.6 707.4 900.5C710.2 897.3 713.0 894.6 715.8 892.2C718.7 889.8 721.5 887.7 724.3 885.8C727.1 883.9 729.9 882.3 732.7 880.9C735.5 879.6 737.5 878.5 741.1 877.7C744.8 876.9 750.1 876.3 754.6 876.4C759.1 876.4 763.3 877.1 768.1 878.0C772.9 879.0 778.8 880.4 783.3 881.9C787.8 883.5 790.9 884.9 795.1 887.3C799.3 889.7 804.1 893.2 808.5 896.1C813.0 898.9 817.5 901.4 822.0 904.5C826.5 907.6 831.3 911.6 835.5 914.6C839.7 917.6 842.8 920.6 847.3 922.7C851.8 924.8 857.7 926.7 862.5 927.1C867.3 927.4 871.5 926.0 876.0 924.7C880.5 923.4 884.5 921.6 889.5 919.3C894.4 917.1 902.8 912.6 905.5 911.2" stroke="url(#cg)" stroke-width="3.3" stroke-linecap="butt"/><circle cx="905.6" cy="910.8" r="3.2" fill="#94aa30" filter="url(#ds)"/></svg>
<span class="t" id="t148" style="left:663.19px;top:856.04px;font-size:9.4px;color:#d6d6d6;">80</span>
<span class="t" id="t149" style="left:663.19px;top:882.94px;font-size:9.4px;color:#d6d6d6;">60</span>
<span class="t" id="t150" style="left:663.19px;top:909.94px;font-size:9.4px;color:#d6d6d6;">40</span>
<span class="t" id="t151" style="left:663.19px;top:936.94px;font-size:9.4px;color:#d6d6d6;">20</span>
<span class="t" id="t152" style="left:668.40px;top:963.84px;font-size:9.4px;color:#d6d6d6;">0</span>
<span class="t" id="t153" style="left:658.80px;top:840.84px;font-size:6.8px;color:#d4d4d4;">(°C)</span>
<span class="t" id="t154" style="left:686.88px;top:976.04px;font-size:9.4px;color:#d8d8d8;">12am</span>
<span class="t" id="t155" style="left:720.99px;top:976.04px;font-size:9.4px;color:#d8d8d8;">3am</span>
<span class="t" id="t156" style="left:749.79px;top:976.04px;font-size:9.4px;color:#d8d8d8;">6am</span>
<span class="t" id="t157" style="left:778.59px;top:976.04px;font-size:9.4px;color:#d8d8d8;">9am</span>
<span class="t" id="t158" style="left:806.88px;top:976.04px;font-size:9.4px;color:#d8d8d8;">12pm</span>
<span class="t" id="t159" style="left:840.99px;top:976.04px;font-size:9.4px;color:#d8d8d8;">3pm</span>
<span class="t" id="t160" style="left:870.49px;top:976.04px;font-size:9.4px;color:#d8d8d8;">6pm</span>
<span class="t" id="t161" style="left:900.09px;top:976.04px;font-size:9.4px;color:#d8d8d8;">9pm</span>
<span class="t" id="t162" style="left:929.38px;top:976.04px;font-size:9.4px;color:#d8d8d8;">12am</span>
</body></html>
